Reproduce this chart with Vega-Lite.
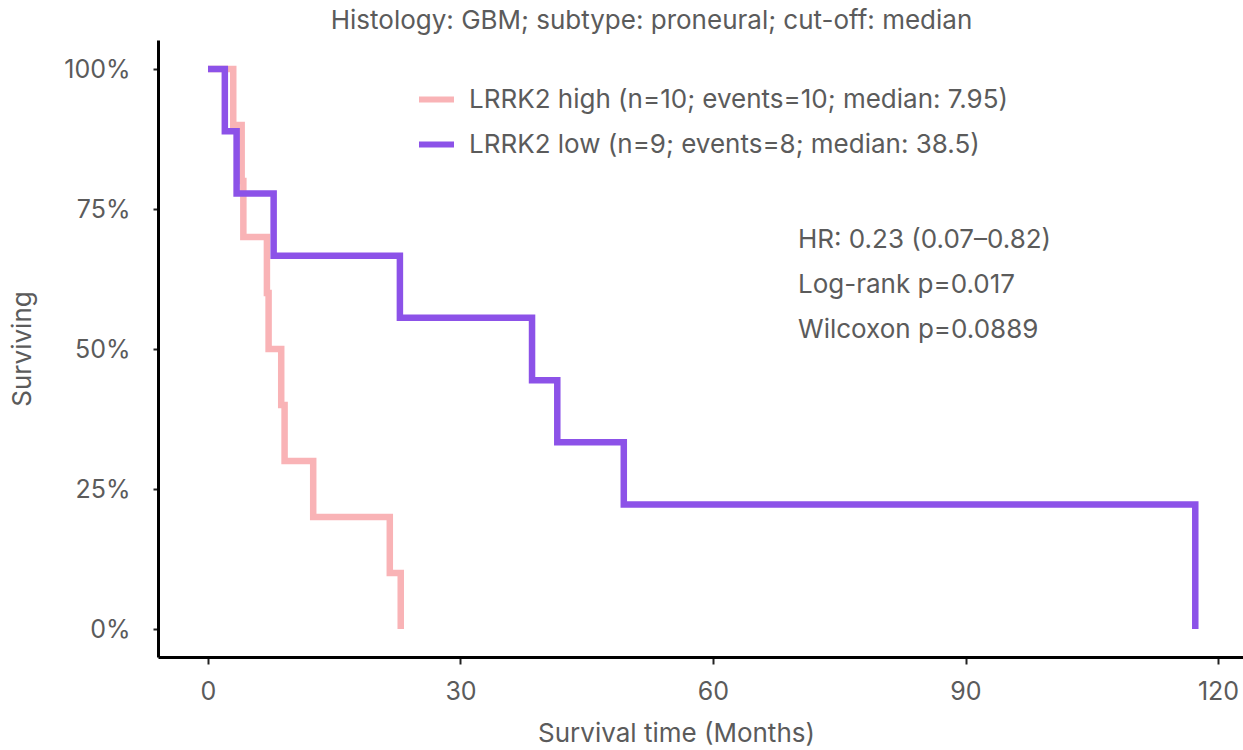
{
  "$schema": "https://vega.github.io/schema/vega-lite/v6.json",
  "autosize": {"type": "none"},
  "padding": {"left": 158, "top": 40, "right": 0, "bottom": 93},
  "width": 1085,
  "height": 617,
  "background": "white",
  "config": {"view": {"stroke": null}, "font": "Inter"},
  "title": {
    "text": "Histology: GBM; subtype: proneural; cut-off: median",
    "fontSize": 26,
    "fontWeight": "normal",
    "color": "#5b5b5b",
    "anchor": "middle",
    "frame": "group",
    "dx": -49,
    "dy": 28,
    "baseline": "bottom",
    "offset": 8
  },
  "layer": [
    {
      "data": {
        "values": [
          {"group": "LRRK2 high (n=10; events=10; median: 7.95)", "t": 0, "s": 1.0},
          {"group": "LRRK2 high (n=10; events=10; median: 7.95)", "t": 3.0, "s": 0.9},
          {"group": "LRRK2 high (n=10; events=10; median: 7.95)", "t": 4.0, "s": 0.8},
          {"group": "LRRK2 high (n=10; events=10; median: 7.95)", "t": 4.2, "s": 0.7},
          {"group": "LRRK2 high (n=10; events=10; median: 7.95)", "t": 7.0, "s": 0.6},
          {"group": "LRRK2 high (n=10; events=10; median: 7.95)", "t": 7.2, "s": 0.5},
          {"group": "LRRK2 high (n=10; events=10; median: 7.95)", "t": 8.7, "s": 0.4},
          {"group": "LRRK2 high (n=10; events=10; median: 7.95)", "t": 9.1, "s": 0.3},
          {"group": "LRRK2 high (n=10; events=10; median: 7.95)", "t": 12.5, "s": 0.2},
          {"group": "LRRK2 high (n=10; events=10; median: 7.95)", "t": 21.6, "s": 0.1},
          {"group": "LRRK2 high (n=10; events=10; median: 7.95)", "t": 22.9, "s": 0.0},
          {"group": "LRRK2 low (n=9; events=8; median: 38.5)", "t": 0, "s": 1.0},
          {"group": "LRRK2 low (n=9; events=8; median: 38.5)", "t": 2.0, "s": 0.8889},
          {"group": "LRRK2 low (n=9; events=8; median: 38.5)", "t": 3.4, "s": 0.7778},
          {"group": "LRRK2 low (n=9; events=8; median: 38.5)", "t": 7.8, "s": 0.6667},
          {"group": "LRRK2 low (n=9; events=8; median: 38.5)", "t": 22.8, "s": 0.5556},
          {"group": "LRRK2 low (n=9; events=8; median: 38.5)", "t": 38.5, "s": 0.4444},
          {"group": "LRRK2 low (n=9; events=8; median: 38.5)", "t": 41.5, "s": 0.3333},
          {"group": "LRRK2 low (n=9; events=8; median: 38.5)", "t": 49.4, "s": 0.2222},
          {"group": "LRRK2 low (n=9; events=8; median: 38.5)", "t": 117.3, "s": 0.0}
        ]
      },
      "mark": {"type": "line", "interpolate": "step-after", "strokeWidth": 6.5, "strokeJoin": "miter", "clip": true},
      "encoding": {
        "x": {
          "field": "t",
          "type": "quantitative",
          "scale": {"domain": [-5.94, 122.97], "nice": false, "zero": false},
          "axis": {
            "values": [0, 30, 60, 90, 120],
            "title": "Survival time (Months)",
            "grid": false,
            "domainColor": "#000000",
            "domainWidth": 3,
            "tickColor": "#222222",
            "tickWidth": 2,
            "tickSize": 7,
            "labelPadding": 15,
            "labelFontSize": 25,
            "labelColor": "#5b5b5b",
            "titleFontSize": 26,
            "titleFontWeight": "normal",
            "titleColor": "#5b5b5b",
            "titleX": 518,
            "titleY": 76,
            "titleBaseline": "middle",
            "titleAlign": "center"
          }
        },
        "y": {
          "field": "s",
          "type": "quantitative",
          "scale": {"domain": [-0.05, 1.0518], "nice": false, "zero": false},
          "axis": {
            "values": [0, 0.25, 0.5, 0.75, 1],
            "format": ".0%",
            "title": "Surviving",
            "grid": false,
            "domainColor": "#000000",
            "domainWidth": 3,
            "tickColor": "#222222",
            "tickWidth": 2,
            "tickSize": 5,
            "labelPadding": 23,
            "labelFontSize": 25,
            "labelColor": "#5b5b5b",
            "titleFontSize": 26,
            "titleFontWeight": "normal",
            "titleColor": "#5b5b5b",
            "titlePadding": 28
          }
        },
        "color": {
          "field": "group",
          "type": "nominal",
          "scale": {
            "domain": ["LRRK2 high (n=10; events=10; median: 7.95)", "LRRK2 low (n=9; events=8; median: 38.5)"],
            "range": ["#f9b3b6", "#8c52e8"]
          },
          "legend": {
            "title": null,
            "orient": "none",
            "legendX": 258,
            "legendY": 39,
            "symbolType": "stroke",
            "symbolSize": 1225,
            "symbolStrokeWidth": 6,
            "labelFontSize": 26,
            "labelColor": "#5b5b5b",
            "labelOffset": 12,
            "rowPadding": 11,
            "labelLimit": 900
          }
        }
      }
    },
    {
      "data": {"values": [{"lines": ["HR: 0.23 (0.07–0.82)", "Log-rank p=0.017", "Wilcoxon p=0.0889"]}]},
      "mark": {"type": "text", "align": "left", "baseline": "top", "fontSize": 26, "color": "#5b5b5b", "lineHeight": 45},
      "encoding": {
        "x": {"datum": 70.1},
        "y": {"datum": 0.718},
        "text": {"field": "lines"}
      }
    }
  ]
}
